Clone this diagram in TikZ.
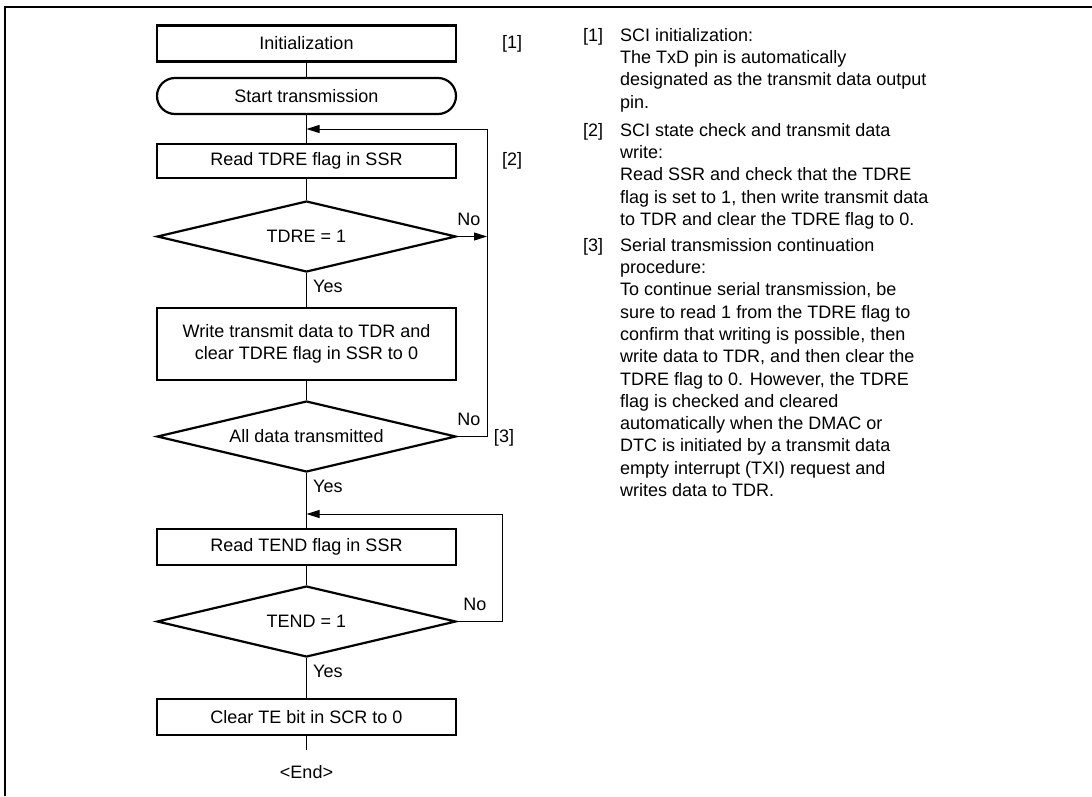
\documentclass[tikz,border=0pt]{standalone}
\usepackage{fontspec}
\setmainfont{Liberation Sans}
\usepackage{tikz}
\usetikzlibrary{arrows.meta,calc,positioning,shapes.geometric}

\begin{document}
\begin{tikzpicture}[
      x=1pt, y=-1pt,
      every node/.style={font=\fontsize{18}{22.3}\selectfont},
      procbox/.style={draw, line width=2.2pt, minimum width=299pt, minimum height=36pt, inner sep=0pt, align=center},
      startbox/.style={procbox, rounded corners=18pt},
      decision/.style={draw, diamond, aspect=4.2, line width=2.2pt, minimum width=299pt, minimum height=71pt, inner sep=0pt},
      flow/.style={line width=1pt},
      loopback/.style={line width=1pt, -{Triangle[length=13pt,width=8pt]}},
      tag/.style={inner sep=0pt, anchor=base west},
      note/.style={inner sep=0pt, anchor=north west, align=left}
    ]
      \useasboundingbox (0,0) rectangle (1092,796);
      \draw[line width=1.6pt] (5,796) |- (1092,7);

      % Flow of steps
      \node[procbox] (init) at (306.5,43.5) {Initialization};
      \node[startbox] (start) at (306.5,96) {Start transmission};
      \node[procbox, minimum height=34pt] (rdre) at (306.5,161) {Read TDRE flag in SSR};
      \node[decision] (tdre) at (306.5,236.5) {TDRE = 1};
      \node[procbox, minimum height=72pt] (wr) at (306.5,344) {Write transmit data to TDR and\\clear TDRE flag in SSR to 0};
      \node[decision] (all) at (306.5,436.5) {All data transmitted};
      \node[procbox] (rend) at (306.5,547) {Read TEND flag in SSR};
      \node[decision] (tend) at (306.5,621.5) {TEND = 1};
      \node[procbox] (clr) at (306.5,717) {Clear TE bit in SCR to 0};
      \node[inner sep=0pt] (fin) at (306.5,772) {<End>};

      \coordinate (mergea) at (306.5,129);
      \coordinate (mergeb) at (306.5,514);
      \coordinate (loopa) at (487,129);
      \coordinate (loopb) at (502,514);
      \coordinate (tail) at (306.5,750);

      \draw[flow] (init) -- (start);
      \draw[flow] (start) -- (rdre);
      \draw[flow] (rdre) -- (tdre);
      \draw[flow] (tdre) -- (wr);
      \draw[flow] (wr) -- (all);
      \draw[flow] (all) -- (rend);
      \draw[flow] (rend) -- (tend);
      \draw[flow] (tend) -- (clr);
      \draw[flow] (clr) -- (tail);

      % Loops back
      \draw[loopback] (tdre.east) -- (tdre.east -| loopa);
      \draw[loopback] (all.east) -| (loopa) -- (mergea);
      \draw[loopback] (tend.east) -| (loopb) -- (mergeb);

      \node[tag] (noa) at ([shift={(0,-11)}]tdre.east) {No};
      \node[tag] (nob) at ([shift={(0,-11)}]all.east) {No};
      \node[tag] (noc) at ([shift={(6,-11)}]tend.east) {No};
      \node[tag] (yesa) at ([shift={(6.5,19.5)}]tdre.south) {Yes};
      \node[tag] (yesb) at ([shift={(6.5,19.5)}]all.south) {Yes};
      \node[tag] (yesc) at ([shift={(6.5,19.5)}]tend.south) {Yes};

      \node[inner sep=0pt] (m1) at (512,43.5) {[1]};
      \node[inner sep=0pt] (m2) at (512,161) {[2]};
      \node[inner sep=0pt] (m3) at (504,438) {[3]};

      % Notes on the right
      \node[tag] (k1) at (583,41) {[1]};
      \node[note] (t1) at (620,28) {SCI initialization:\\The TxD pin is automatically\\designated as the transmit data output\\pin.};
      \node[tag] (k2) at (583,136) {[2]};
      \node[note] (t2) at (620,123) {SCI state check and transmit data\\write:\\Read SSR and check that the TDRE\\flag is set to 1, then write transmit data\\to TDR and clear the TDRE flag to 0.};
      \node[tag] (k3) at (583,251) {[3]};
      \node[note] (t3) at (620,238) {Serial transmission continuation\\procedure:\\To continue serial transmission, be\\sure to read 1 from the TDRE flag to\\confirm that writing is possible, then\\write data to TDR, and then clear the\\TDRE flag to 0. However, the TDRE\\flag is checked and cleared\\automatically when the DMAC or\\DTC is initiated by a transmit data\\empty interrupt (TXI) request and\\writes data to TDR.};
    \end{tikzpicture}
\end{document}
